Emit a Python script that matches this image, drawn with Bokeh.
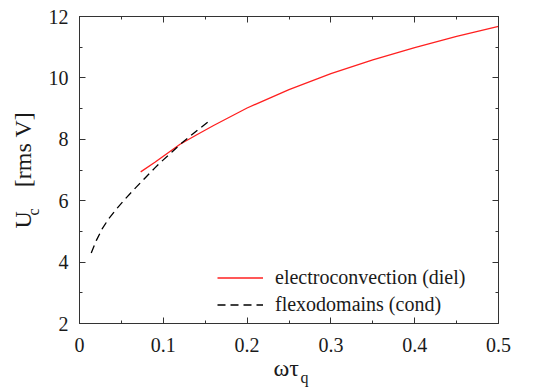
from bokeh.plotting import figure
from bokeh.models import (Range1d, FixedTicker, LinearAxis, Legend, LegendItem,
                          Title, CustomJSTickFormatter)
from bokeh.embed import file_html
from bokeh.resources import INLINE

# ---- data ----
diel_x = [0.073, 0.09, 0.10, 0.12, 0.14, 0.16, 0.20, 0.25, 0.30, 0.35, 0.40, 0.45, 0.50]
diel_y = [6.94, 7.25, 7.45, 7.84, 8.15, 8.45, 9.02, 9.62, 10.14, 10.59, 10.99, 11.35, 11.68]

cond_x = [0.014, 0.02, 0.027, 0.035, 0.045, 0.056, 0.068, 0.08, 0.09, 0.10, 0.11, 0.12, 0.13, 0.14, 0.155]
cond_y = [4.30, 4.70, 5.08, 5.42, 5.76, 6.10, 6.45, 6.79, 7.07, 7.33, 7.58, 7.83, 8.06, 8.28, 8.60]

x_ticks = [0, 0.1, 0.2, 0.3, 0.4, 0.5]
x_tick_labels = ["0", "0.1", "0.2", "0.3", "0.4", "0.5"]
x_minor = [0.05, 0.15, 0.25, 0.35, 0.45]
y_ticks = [2, 4, 6, 8, 10, 12]
y_tick_labels = ["2", "4", "6", "8", "10", "12"]
y_minor = [3, 5, 7, 9, 11]

series_labels = ["electroconvection (diel)", "flexodomains (cond)"]
x_label_main, x_label_sub = "ωτ", "q"
y_label_main, y_label_sub, y_label_unit = "U", "c", "[rms V]"

XMIN, XMAX, YMIN, YMAX = 0.0, 0.5, 2.0, 12.0
FONT = "Liberation Serif"
TXT = "#1a1a1a"

# frame geometry (pixels)
FL, FR, FT, FB = 79, 498, 16, 323
W, H = 538, 390

p = figure(width=W, height=H, output_backend="svg", toolbar_location=None,
           x_range=Range1d(XMIN, XMAX), y_range=Range1d(YMIN, YMAX),
           min_border_left=FL, min_border_right=W - FR,
           min_border_top=FT, min_border_bottom=H - FB,
           x_axis_type=None, y_axis_type=None)
p.grid.visible = False
p.outline_line_color = "#333333"
p.outline_line_width = 1
p.background_fill_color = "white"
p.border_fill_color = "white"

xt = FixedTicker(ticks=x_ticks, minor_ticks=x_minor)
yt = FixedTicker(ticks=y_ticks, minor_ticks=y_minor)
blank = CustomJSTickFormatter(code="return ''")


def style(ax, labels=True):
    ax.major_tick_in = 6
    ax.major_tick_out = 0
    ax.minor_tick_in = 3
    ax.minor_tick_out = 0
    ax.axis_line_color = "#333333"
    ax.major_tick_line_color = "#333333"
    ax.minor_tick_line_color = "#333333"
    ax.major_label_text_font = FONT
    ax.major_label_text_font_size = "20px"
    ax.major_label_text_color = TXT
    if not labels:
        ax.formatter = blank
        ax.major_label_standoff = 0
        ax.major_label_text_font_size = "0px"


xb = LinearAxis(ticker=xt, major_label_overrides=dict(zip(x_ticks, x_tick_labels)))
style(xb)
xb.major_label_standoff = 14
yl = LinearAxis(ticker=yt, major_label_overrides=dict(zip(y_ticks, y_tick_labels)))
style(yl)
yl.major_label_standoff = 11
xa = LinearAxis(ticker=xt)
style(xa, labels=False)
yr = LinearAxis(ticker=yt)
style(yr, labels=False)
p.add_layout(xb, "below")
p.add_layout(yl, "left")
p.add_layout(xa, "above")
p.add_layout(yr, "right")

r1 = p.line(diel_x, diel_y, line_color="#ff2020", line_width=1.3)
r2 = p.line(cond_x, cond_y, line_color="black", line_width=1.3, line_dash="8 5")

legend = Legend(items=[LegendItem(label=series_labels[0], renderers=[r1]),
                       LegendItem(label=series_labels[1], renderers=[r2])],
                location=(217 - FL, 5), padding=0, margin=0, spacing=0,
                glyph_width=46, glyph_height=27, label_height=27,
                label_standoff=12, border_line_alpha=0, background_fill_alpha=0,
                label_text_font=FONT, label_text_font_size="20px",
                label_text_color=TXT)
p.add_layout(legend, "center")


def title(text, size, offset, standoff, valign):
    return Title(text=text, text_font=FONT, text_font_size=size,
                 text_font_style="normal", text_color=TXT, align="left",
                 offset=offset, standoff=standoff, vertical_align=valign)


# x axis label: ωτ with subscript q
p.add_layout(title(x_label_main, "24px", 194, -3, "bottom"), "below")
p.add_layout(title(x_label_sub, "16px", 221, -22, "top"), "below")
# y axis label: U with subscript c, then [rms V] (rotated)
p.add_layout(title(y_label_sub, "16px", 108, 8, "bottom"), "left")
p.add_layout(title(y_label_main + "\u00a0\u00a0\u00a0\u00a0" + y_label_unit, "24px", 95, -35, "bottom"), "left")

open("out.html", "w").write(file_html(p, INLINE))
